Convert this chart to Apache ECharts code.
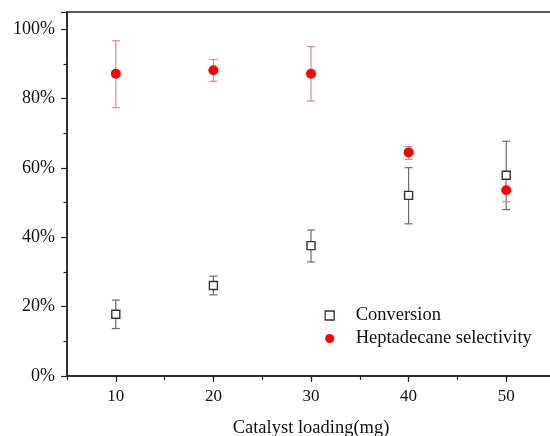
<!DOCTYPE html>
<html>
<head>
<meta charset="utf-8">
<script src="https://cdn.jsdelivr.net/npm/echarts@6/dist/echarts.min.js"></script>
<style>html,body{margin:0;padding:0;background:#fff;}#c{width:550px;height:436px;}</style>
</head>
<body>
<div id="c"></div>
<script>
var loading = [10, 20, 30, 40, 50];
var conversion = [17.8, 26.1, 37.6, 52.1, 57.9];
var conversionLow = [13.7, 23.4, 32.9, 43.9, 48.0];
var conversionHigh = [21.9, 28.8, 42.1, 60.1, 67.7];
var selectivity = [87.2, 88.2, 87.2, 64.5, 53.6];
var selectivityLow = [77.4, 85.0, 79.3, 62.5, 50.3];
var selectivityHigh = [96.7, 91.3, 95.0, 66.2, 56.9];
var xTickLabels = [10, 20, 30, 40, 50];
var yTickLabels = [0, 20, 40, 60, 80, 100];

var FONT = '"Liberation Serif", "Times New Roman", serif';

function pairs(xs, ys) { return xs.map(function (x, i) { return [x, ys[i]]; }); }
function triples(xs, lo, hi) { return xs.map(function (x, i) { return [x, lo[i], hi[i]]; }); }

function errRender(color, capHalf) {
  return function (params, api) {
    var x = api.value(0);
    var lo = api.coord([x, api.value(1)]);
    var hi = api.coord([x, api.value(2)]);
    var st = { stroke: color, lineWidth: 1.2 };
    return {
      type: 'group',
      children: [
        { type: 'line', shape: { x1: lo[0], y1: lo[1], x2: hi[0], y2: hi[1] }, style: st },
        { type: 'line', shape: { x1: lo[0] - capHalf, y1: lo[1], x2: lo[0] + capHalf, y2: lo[1] }, style: st },
        { type: 'line', shape: { x1: hi[0] - capHalf, y1: hi[1], x2: hi[0] + capHalf, y2: hi[1] }, style: st }
      ]
    };
  };
}

var chart = echarts.init(document.getElementById('c'), null, { renderer: 'canvas' });
chart.setOption({
  animation: false,
  backgroundColor: '#fff',
  grid: { left: 67, top: 12, right: -5, bottom: 60, outerBoundsMode: 'none', containLabel: false,
          show: true, borderColor: '#222', borderWidth: 1.5, backgroundColor: 'transparent' },
  legend: {
    orient: 'vertical',
    left: 319.5, top: 301,
    itemWidth: 9, itemHeight: 9, itemGap: 4,
    textStyle: { fontFamily: FONT, fontSize: 18.5, color: '#111', padding: [0, 0, 0, 16.5] },
    data: [
      { name: 'Conversion', icon: 'rect', itemStyle: { color: '#fff', borderColor: '#333', borderWidth: 1.3 } },
      { name: 'Heptadecane selectivity', icon: 'circle', itemStyle: { color: '#ff0000' } }
    ]
  },
  xAxis: [{
    type: 'value', min: 5, max: 55, interval: 5,
    name: 'Catalyst loading(mg)', nameLocation: 'middle', nameGap: 43,
    nameTextStyle: { fontFamily: FONT, fontSize: 18.5, color: '#111' },
    axisLine: { lineStyle: { color: '#222', width: 1.5 } },
    axisTick: { length: 4, lineStyle: { color: '#222', width: 1.2 } },
    axisLabel: {
      fontFamily: FONT, fontSize: 17, color: '#111', margin: 12,
      formatter: function (v) { return xTickLabels.indexOf(v) >= 0 ? String(v) : ''; }
    },
    splitLine: { show: false }
  }, {
    type: 'value', min: 5, max: 55, position: 'bottom',
    axisLine: { show: false },
    axisTick: { show: true, length: 6, customValues: xTickLabels, lineStyle: { color: '#222', width: 1.2 } },
    axisLabel: { show: false },
    splitLine: { show: false }
  }],
  yAxis: {
    type: 'value', min: 0, max: 105, interval: 20,
    axisLine: { show: true, lineStyle: { color: '#222', width: 1.5 } },
    axisTick: { show: true, length: 6, lineStyle: { color: '#222', width: 1.2 } },
    minorTick: { show: true, splitNumber: 2, length: 3.5, lineStyle: { color: '#222', width: 1.2 } },
    axisLabel: {
      fontFamily: FONT, fontSize: 18, color: '#111', margin: 12, showMaxLabel: false,
      formatter: function (v) { return yTickLabels.indexOf(v) >= 0 ? v + '%' : ''; }
    },
    splitLine: { show: false }
  },
  series: [
    { type: 'custom', name: 'convErr', data: triples(loading, conversionLow, conversionHigh), renderItem: errRender('#6a6a6a', 4), z: 1, silent: true },
    { type: 'custom', name: 'selErr', data: triples(loading, selectivityLow, selectivityHigh), renderItem: errRender('#d98a8c', 4), z: 1, silent: true },
    { type: 'scatter', name: 'Conversion', data: pairs(loading, conversion), symbol: 'rect', symbolSize: 8,
      itemStyle: { color: '#fff', borderColor: '#333', borderWidth: 1.4, opacity: 1 }, z: 3 },
    { type: 'scatter', name: 'Heptadecane selectivity', data: pairs(loading, selectivity), symbol: 'circle', symbolSize: 10,
      itemStyle: { color: '#ff0000', opacity: 1 }, z: 4 }
  ]
});
</script>
</body>
</html>
